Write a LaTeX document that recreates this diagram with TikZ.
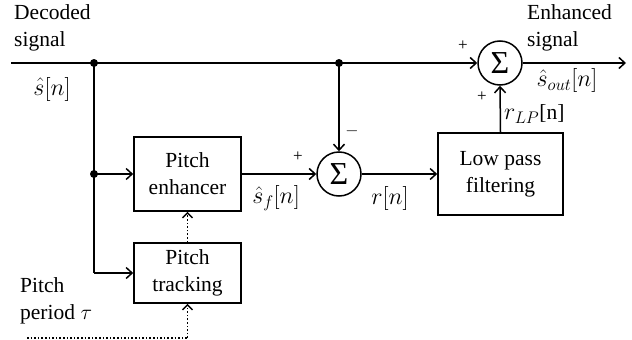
\RequirePackage{fix-cm}
\documentclass[tikz,border=0pt]{standalone}
\usepackage{fontspec}
\setmainfont{Liberation Serif}
\usetikzlibrary{arrows.meta}
\begin{document}
\begin{tikzpicture}[x=1pt,y=-1pt,
  every node/.style={font=\fontsize{21.5}{27}\selectfont},
  blk/.style={draw,line width=1.6pt,inner sep=0pt,align=center},
  sumnode/.style={draw,circle,line width=1.5pt,minimum size=44pt,inner sep=0pt,font=\fontsize{32}{34}\selectfont},
  wire/.style={line width=1.5pt},
  arr/.style={wire,-{Straight Barb[length=6pt,width=11pt,line width=1.5pt]}},
  dotarr/.style={line width=1.6pt,dotted,-{Straight Barb[length=5pt,width=10pt,line width=1.5pt]}},
  jdot/.style={circle,fill,inner sep=0pt,minimum size=8pt},
  lbl/.style={inner sep=0pt},
  mlbl/.style={inner sep=0pt,font=\fontsize{24}{28}\selectfont},
  sgn/.style={inner sep=0pt,font=\fontsize{17}{18}\selectfont}]
\useasboundingbox (0,0) rectangle (632,340);
% nodes
\coordinate (start) at (11,63);
\node[jdot] (d1) at (94,63) {};
\node[jdot] (d2) at (339,63) {};
\node[jdot] (d3) at (94,174) {};
\coordinate (c4) at (94,273);
\node[sumnode] (sumR) at (500,63) {Σ};
\node[sumnode] (sumM) at (339,174) {Σ};
\node[blk,minimum width=107pt,minimum height=74pt] (enh) at (187.5,174) {Pitch\\enhancer};
\node[blk,minimum width=107pt,minimum height=60pt] (trk) at (187.5,273) {Pitch\\tracking};
\node[blk,minimum width=125pt,minimum height=82pt] (lpf) at (500.5,174) {Low pass\\filtering};
\coordinate (out) at (626,63);
\coordinate (p1) at (27,338);
\coordinate (p2) at (187.5,338);
% connectors
\draw[line width=2.6pt] (start) -- (d2.center);
\draw[arr] (d2.center) -- (sumR.west);
\draw[arr] (sumR.east) -- (out);
\draw[arr] (d2.center) -- (sumM.north);
\draw[wire] (d1.center) -- (c4);
\draw[arr] (d3.center) -- (enh.west);
\draw[arr] (c4) -- (trk.west);
\draw[arr] (enh.east) -- (sumM.west);
\draw[arr] (sumM.east) -- (lpf.west);
\draw[arr] (lpf.north) -- (sumR.south);
\draw[dotarr] (trk.north) -- (enh.south);
\draw[line width=1.6pt,dotted] (p1) -- (p2);
\draw[dotarr] (p2) -- (trk.south);
% labels
\node[lbl,align=left,anchor=north west] (t1) at (14,4) {Decoded\\signal};
\node[mlbl] (t2) at (52,89) {$\hat{s}[n]$};
\node[lbl,align=left,anchor=north west] (t3) at (527,4) {Enhanced\\signal};
\node[mlbl] (t4) at (567,81) {$\hat{s}_{out}[n]$};
\node[sgn] (t5) at (463,46) {+};
\node[sgn] (t6) at (482,97) {+};
\node[mlbl,anchor=west] (t7) at (504,114) {$r_{LP}${\fontsize{21.5}{27}\selectfont[n]}};
\node[sgn] (t8) at (352,131) {$-$};
\node[sgn] (t9) at (298,157) {+};
\node[mlbl] (t10) at (276,198) {$\hat{s}_f[n]$};
\node[mlbl] (t11) at (390,198) {$r[n]$};
\node[lbl,align=left,anchor=north west] (t12) at (20,277) {Pitch\\period $\tau$};
\end{tikzpicture}
\end{document}
